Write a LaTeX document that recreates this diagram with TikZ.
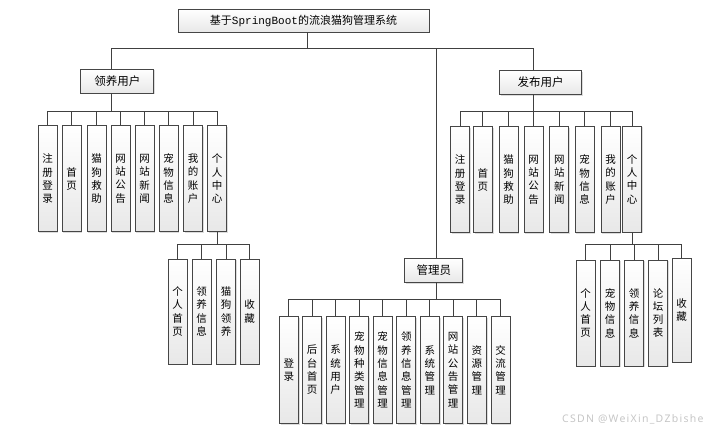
\documentclass[tikz,border=0pt]{standalone}
\usepackage{fontspec}
\setmainfont{Noto Sans CJK SC}
\setmonofont{Liberation Mono}
\newfontfamily\wmfont[LetterSpace=12]{Noto Sans}
\usetikzlibrary{shadows}
\begin{document}
\begin{tikzpicture}[x=1pt,y=-1pt,
  box/.style={draw=gray!55!black, line width=0.7pt, top color=white, bottom color=gray!18,
    inner sep=0pt, drop shadow={shadow xshift=1.2pt, shadow yshift=-1.2pt, fill=gray!55}},
  vbox/.style={box, minimum width=19pt, align=center, font=\fontsize{10.5}{13.3}\selectfont},
  gbox/.style={box, minimum height=24pt, font=\fontsize{11.5}{12}\selectfont},
  link/.style={draw=black!75, line width=0.8pt}]
\useasboundingbox (0,0) rectangle (710,433);

% title and group boxes
\node[box, minimum width=251pt, minimum height=23pt, font=\fontsize{11}{12}\selectfont] (title) at (303.5,20.5) {基于\texttt{SpringBoot}的流浪猫狗管理系统};
\node[gbox, minimum width=73pt] (lu) at (117.3,81) {领养用户};
\node[gbox, minimum width=82pt] (pu) at (540.5,82.5) {发布用户};
\node[gbox, minimum width=58pt] (ad) at (433.8,270.3) {管理员};

% bar levels
\coordinate (b0) at (0,48);
\coordinate (b1) at (0,111.7);
\coordinate (bs) at (0,244.3);
\coordinate (bm) at (0,299.3);

% left children
\begin{scope}[every node/.append style={vbox, minimum height=106pt}]
\node (l1) at (47.5,178.7) {注\\册\\登\\录};
\node (l2) at (71.7,178.7) {首\\页};
\node (l3) at (96.7,178.7) {猫\\狗\\救\\助};
\node (l4) at (120.7,178.7) {网\\站\\公\\告};
\node (l5) at (144.7,178.7) {网\\站\\新\\闻};
\node (l6) at (168.7,178.7) {宠\\物\\信\\息};
\node (l7) at (193,178.7) {我\\的\\账\\户};
\node (l8) at (217.2,178.7) {个\\人\\中\\心};
\end{scope}
% left sub
\begin{scope}[every node/.append style={vbox, minimum height=105pt}]
\node (ls1) at (177.5,311.5) {个\\人\\首\\页};
\node (ls2) at (201.7,311.5) {领\\养\\信\\息};
\node (ls3) at (226,311.5) {猫\\狗\\领\\养};
\node (ls4) at (249.7,311.5) {收\\藏};
\end{scope}
% right children
\begin{scope}[every node/.append style={vbox, minimum height=106pt}]
\node (r1) at (460,179.7) {注\\册\\登\\录};
\node (r2) at (482.8,179.7) {首\\页};
\node (r3) at (508.5,179.7) {猫\\狗\\救\\助};
\node (r4) at (533.7,179.7) {网\\站\\公\\告};
\node (r5) at (559.3,179.7) {网\\站\\新\\闻};
\node (r6) at (584.7,179.7) {宠\\物\\信\\息};
\node (r7) at (610.5,179.7) {我\\的\\账\\户};
\node (r8) at (632,179.2) {个\\人\\中\\心};
\end{scope}
% right sub
\begin{scope}[every node/.append style={vbox, minimum height=106pt}]
\node (rs1) at (585.5,313) {个\\人\\首\\页};
\node (rs2) at (610,313) {宠\\物\\信\\息};
\node (rs3) at (634,313) {领\\养\\信\\息};
\node (rs4) at (658,313) {论\\坛\\列\\表};
\node[minimum height=104pt] (rs5) at (681.5,310) {收\\藏};
\end{scope}
% admin children
\begin{scope}[every node/.append style={vbox, minimum height=106.6pt}]
\node (m1) at (288.8,370) {登\\录};
\node (m2) at (312.2,370) {后\\台\\首\\页};
\node (m3) at (335.7,370) {系\\统\\用\\户};
\node (m4) at (359.3,370) {宠\\物\\种\\类\\管\\理};
\node (m5) at (382.7,370) {宠\\物\\信\\息\\管\\理};
\node (m6) at (406.3,370) {领\\养\\信\\息\\管\\理};
\node (m7) at (429.8,370) {系\\统\\管\\理};
\node (m8) at (453.2,370) {网\\站\\公\\告\\管\\理};
\node (m9) at (476.8,370) {资\\源\\管\\理};
\node (m10) at (500.5,370) {交\\流\\管\\理};
\end{scope}

% connectors: top level
\draw[link] ([xshift=4pt]title.south) -- ([xshift=4pt]title.south |- b0);
\draw[link] ([xshift=-6pt]lu.north) -- ([xshift=-6pt]lu.north |- b0)
  -- ([xshift=-7pt]pu.north |- b0) -- ([xshift=-7pt]pu.north);
\draw[link] ([xshift=3pt]ad.north) -- ([xshift=3pt]ad.north |- b0);

% left group
\foreach \c in {l1,l2,l3,l4,l5,l6,l7,l8}
  \draw[link] ([xshift=-6pt]lu.south) -- ([xshift=-6pt]lu.south |- b1) -| (\c.north);
\foreach \c in {ls1,ls2,ls3,ls4}
  \draw[link] (l8.south) -- (l8.south |- bs) -| (\c.north);
% right group
\foreach \c in {r1,r2,r3,r4,r5,r6,r7,r8}
  \draw[link] ([xshift=-7pt]pu.south) -- ([xshift=-7pt]pu.south |- b1) -| (\c.north);
\foreach \c in {rs1,rs2,rs3,rs4,rs5}
  \draw[link] (r8.south) -- (r8.south |- bs) -| (\c.north);
% admin group
\foreach \c in {m1,m2,m3,m4,m5,m6,m7,m8,m9,m10}
  \draw[link] ([xshift=3pt]ad.south) -- ([xshift=3pt]ad.south |- bm) -| (\c.north);

% watermark
\node[font=\wmfont\fontsize{10.5}{12}\selectfont, text=gray!45, anchor=east] (wm) at (707,419) {CSDN @WeiXin\_DZbishe};
\end{tikzpicture}
\end{document}
